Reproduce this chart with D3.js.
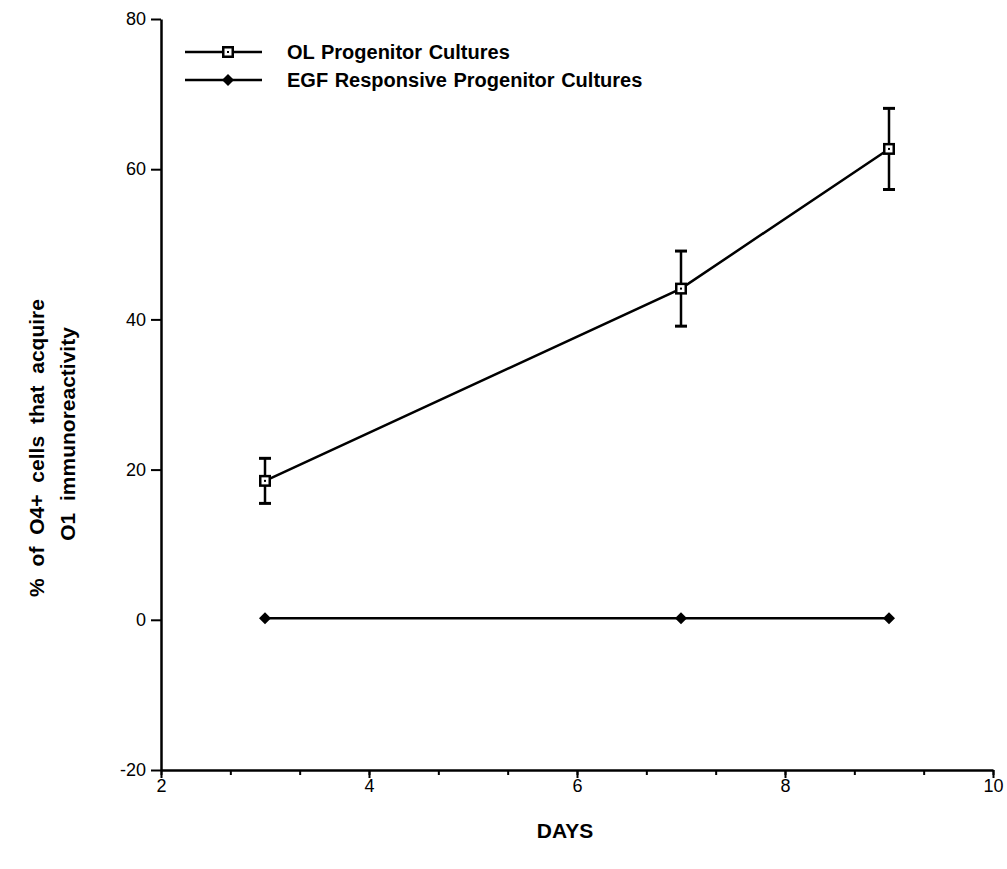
<!DOCTYPE html>
<html>
<head>
<meta charset="utf-8">
<script src="https://cdn.jsdelivr.net/npm/d3@7"></script>
<style>
  body { margin: 0; background: #fff; }
  text { font-family: "Liberation Sans", Arial, sans-serif; fill: #000; }
</style>
</head>
<body>
<script>
// data
let days = [3, 7, 9]
let olMean = [18.5, 44.1, 62.7]
let olErr = [3.0, 5.0, 5.4]
let egfMean = [0.2, 0.2, 0.2]
let seriesNames = ["OL Progenitor Cultures", "EGF Responsive Progenitor Cultures"]
let xTicks = [2, 4, 6, 8, 10]
let yTicks = [-20, 0, 20, 40, 60, 80]

let width = 1007, height = 869

let svg = d3.select('body').append('svg')
  .attr("width", width).attr("height", height)

// scales
let x = d3.scaleLinear().domain([2, 10]).range([161, 993])
let y = d3.scaleLinear().domain([-20, 80]).range([770, 19])

// x axis with minor ticks (3 per interval)
let minorTicks = d3.range(2, 10.01, 2 / 3)
svg.append("g")
  .attr("transform", `translate(0,${y(-20)})`)
  .call(d3.axisBottom(x).tickValues(minorTicks).tickSize(5).tickFormat(""))
  .call(g => g.select(".domain").remove())
  .selectAll("line").attr("stroke-width", 2)

let xAxis = svg.append("g")
  .attr("transform", `translate(0,${y(-20)})`)
  .call(d3.axisBottom(x).tickValues(xTicks).tickSize(8).tickSizeOuter(0).tickFormat(d => d))
xAxis.select(".domain").attr("stroke-width", 2.5)
xAxis.selectAll("line").attr("stroke-width", 2)
xAxis.selectAll("text").style("font-size", "18px").attr("y", 9)

// y axis
let yAxis = svg.append("g")
  .attr("transform", `translate(${x(2)},0)`)
  .call(d3.axisLeft(y).tickValues(yTicks).tickSize(10).tickSizeOuter(0).tickFormat(d => d))
yAxis.select(".domain").attr("stroke-width", 2.5)
yAxis.selectAll("line").attr("stroke-width", 2)
yAxis.selectAll("text").style("font-size", "18px").attr("x", -15)

// EGF series
let egf = days.map((d, i) => ({day: d, v: egfMean[i]}))
svg.append("path").datum(egf)
  .attr("fill", "none").attr("stroke", "#000").attr("stroke-width", 2.5)
  .attr("d", d3.line().x(d => x(d.day)).y(d => y(d.v)))
svg.selectAll(".egf-pt").data(egf).enter()
  .append("path")
  .attr("class", "egf-pt")
  .attr("transform", d => `translate(${x(d.day)},${y(d.v)})`)
  .attr("d", "M0,-6 L6,0 L0,6 L-6,0 Z")

// OL series
let ol = days.map((d, i) => ({day: d, v: olMean[i], e: olErr[i]}))
svg.append("path").datum(ol)
  .attr("fill", "none").attr("stroke", "#000").attr("stroke-width", 2.5)
  .attr("d", d3.line().x(d => x(d.day)).y(d => y(d.v)))

// error bars
let eb = svg.selectAll(".err").data(ol).enter().append("g").attr("class", "err")
  .attr("stroke", "#000").attr("stroke-width", 2.5)
eb.append("line")
  .attr("x1", d => x(d.day)).attr("x2", d => x(d.day))
  .attr("y1", d => y(d.v + d.e)).attr("y2", d => y(d.v - d.e))
eb.append("line")
  .attr("x1", d => x(d.day) - 6).attr("x2", d => x(d.day) + 6)
  .attr("y1", d => y(d.v + d.e)).attr("y2", d => y(d.v + d.e)).attr("stroke-width", 3)
eb.append("line")
  .attr("x1", d => x(d.day) - 6).attr("x2", d => x(d.day) + 6)
  .attr("y1", d => y(d.v - d.e)).attr("y2", d => y(d.v - d.e)).attr("stroke-width", 3)

// open square marker
function squareMarker(g) {
  g.append("rect").attr("x", -6).attr("y", -6).attr("width", 12).attr("height", 12).attr("fill", "#000")
  g.append("rect").attr("x", -3.5).attr("y", -3.5).attr("width", 7).attr("height", 7).attr("fill", "#fff")
  g.append("rect").attr("x", -1).attr("y", -1).attr("width", 2).attr("height", 2).attr("fill", "#000")
}
svg.selectAll(".ol-pt").data(ol).enter()
  .append("g")
  .attr("class", "ol-pt")
  .attr("transform", d => `translate(${x(d.day)},${y(d.v)})`)
  .each(function() { squareMarker(d3.select(this)) })

// legend
let legendY = [52, 80]
let lg = svg.append("g")
lg.selectAll("line").data(legendY).enter().append("line")
  .attr("x1", 185).attr("x2", 262)
  .attr("y1", d => d).attr("y2", d => d)
  .attr("stroke", "#000").attr("stroke-width", 2.5)
squareMarker(lg.append("g").attr("transform", `translate(228,${legendY[0]})`))
lg.append("path").attr("transform", `translate(228,${legendY[1]})`).attr("d", "M0,-6 L6,0 L0,6 L-6,0 Z")
lg.selectAll("text").data(seriesNames).enter().append("text")
  .attr("x", 287).attr("y", (d, i) => legendY[i])
  .attr("dy", "0.35em")
  .attr("font-size", 20).attr("font-weight", "bold")
  .attr("word-spacing", 1)
  .text(d => d)

// axis titles
svg.append("text")
  .attr("x", 565).attr("y", 838)
  .attr("text-anchor", "middle")
  .attr("font-size", 21).attr("font-weight", "bold")
  .text("DAYS")

let yTitle = svg.append("text")
  .attr("transform", "translate(44,448) rotate(-90)")
  .attr("text-anchor", "middle")
  .attr("font-size", 21).attr("font-weight", "bold")
  .attr("word-spacing", 6)
yTitle.append("tspan").attr("x", 0).attr("y", 0).text("% of O4+ cells that acquire")
yTitle.append("tspan").attr("x", 0).attr("y", 31).attr("dx", 14).text("O1 immunoreactivity")
</script>
</body>
</html>
